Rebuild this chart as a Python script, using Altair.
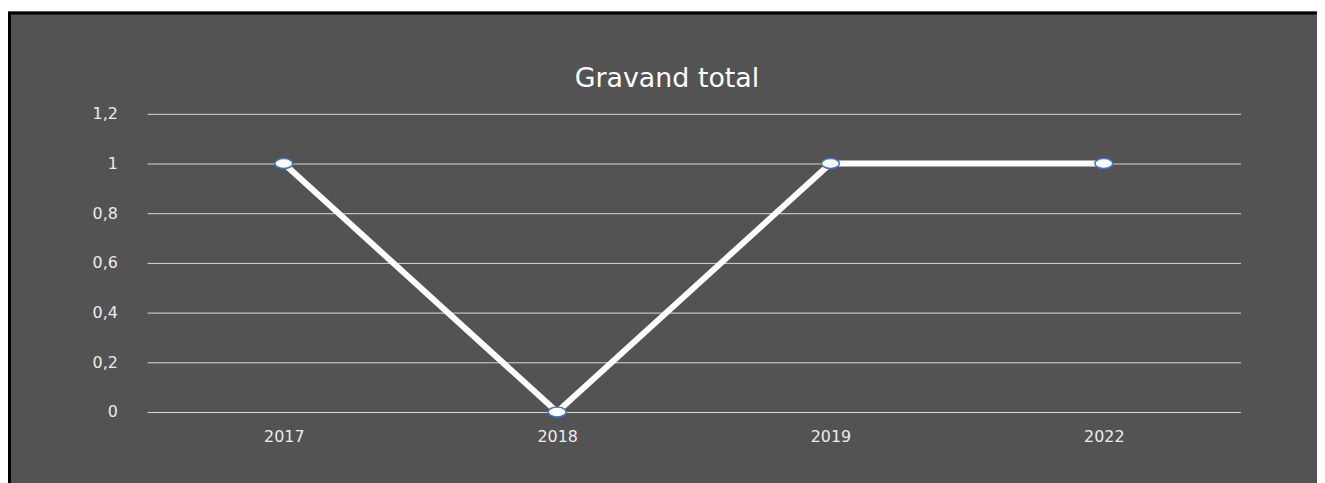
import altair as alt
import pandas as pd

years = ["2017", "2018", "2019", "2022"]
values = [1, 0, 1, 1]
y_ticks = [0, 0.2, 0.4, 0.6, 0.8, 1.0, 1.2]
title_text = "Gravand total"

df = pd.DataFrame({"year": years, "value": values})

FONT = "DejaVu Sans"
BG = "#535353"
TXT = "#ececec"

deco = alt.Data(values=[{"a": 1}])
top_strip = alt.Chart(deco).mark_rect(fill="white").encode(
    x=alt.value(-145), x2=alt.value(1300),
    y=alt.value(-110), y2=alt.value(-103)
)
frame = alt.Chart(deco).mark_rect(
    fill="transparent", stroke="black", strokeWidth=3
).encode(
    x=alt.value(-138.5), x2=alt.value(1300),
    y=alt.value(-101.5), y2=alt.value(500)
)
title = alt.Chart(deco).mark_text(
    text=title_text, font=FONT, fontSize=27, color="white",
    align="center", baseline="middle"
).encode(x=alt.value(523), y=alt.value(-35))

x_enc = alt.X("year:N", sort=years, title=None,
              scale=alt.Scale(paddingInner=0, paddingOuter=0),
              axis=alt.Axis(labelAngle=0, domain=False, ticks=False,
                            labelColor=TXT, labelFont=FONT,
                            labelFontSize=16, labelPadding=17))
y_enc = alt.Y("value:Q", title=None,
              scale=alt.Scale(domain=[0, 1.2], nice=False),
              axis=alt.Axis(values=y_ticks, domain=False, ticks=False,
                            grid=True, gridColor="#d9d9d9", gridWidth=1,
                            labelColor=TXT, labelFont=FONT,
                            labelFontSize=16, labelPadding=30,
                            labelExpr="replace(format(datum.value, '~g'), '.', ',')"))

base = alt.Chart(df).encode(x=x_enc, y=y_enc)

line = base.mark_line(color="white", strokeWidth=6)
ellipse = "M -1 0 A 1 0.55 0 1 0 1 0 A 1 0.55 0 1 0 -1 0 Z"
pts = base.mark_point(shape=ellipse, size=324, filled=True, fill="white",
                      stroke="#4472C4", strokeWidth=1.5, opacity=1)

chart = alt.layer(line, pts, top_strip, frame, title).properties(
    width=1100, height=300,
    padding={"left": 140, "top": 105, "right": 77, "bottom": 70},
    autosize=alt.AutoSizeParams(type="none"),
).configure(background=BG).configure_view(stroke=None)

chart.save("out.html", embed_options={"renderer": "svg", "actions": False})
